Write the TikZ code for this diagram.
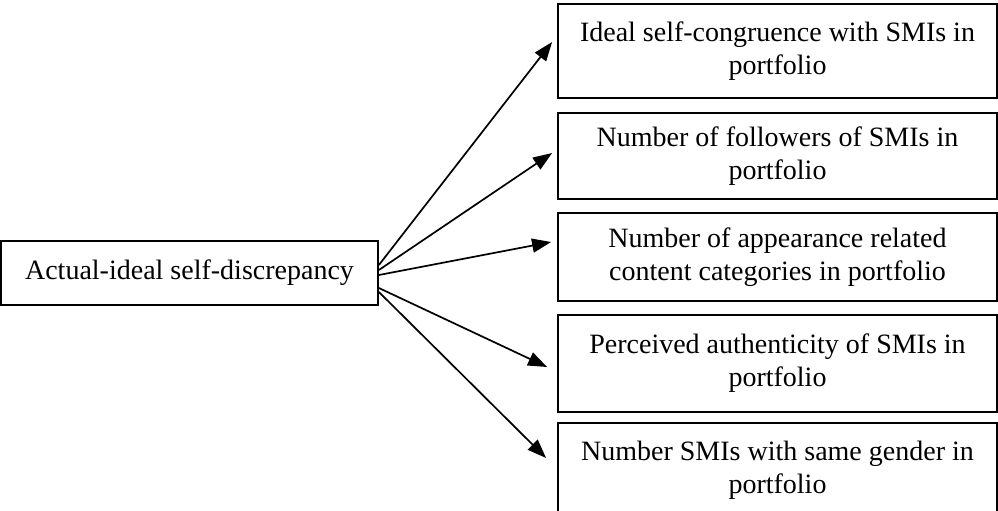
\documentclass[tikz,border=0pt]{standalone}
\usepackage{fontspec}
\setmainfont{Liberation Serif}
\usetikzlibrary{arrows.meta}
\begin{document}
\begin{tikzpicture}[x=0.5pt,y=-0.5pt,
  box/.style={draw, line width=0.9pt, inner sep=0pt, align=center,
    font=\fontsize{14pt}{16.5pt}\selectfont},
  lbox/.style={box, minimum width=188.5pt, minimum height=32pt},
  rbox/.style={box, minimum width=219.5pt},
  arr/.style={line width=0.85pt, -{Triangle[length=9.5pt,width=7pt]}}]
\useasboundingbox (0,0) rectangle (998,510);
\clip (0,0) rectangle (998,510);
\node[lbox] (L) at (189.5,273) {Actual-ideal self-discrepancy};
\node[rbox, minimum height=47pt] (b1) at (777.5,51) {Ideal self-congruence with SMIs in\\portfolio};
\node[rbox, minimum height=43pt] (b2) at (777.5,156) {Number of followers of SMIs in\\portfolio};
\node[rbox, minimum height=44pt] (b3) at (777.5,257) {Number of appearance related\\content categories in portfolio};
\node[rbox, minimum height=48.5pt] (b4) at (777.5,363.5) {Perceived authenticity of SMIs in\\portfolio};
\node[rbox, minimum height=47pt] (b5) at (777.5,470) {Number SMIs with same gender in\\portfolio};
\draw[arr] ([yshift=4pt]L.east) -- ([xshift=-2.5pt,yshift=4.5pt]b1.west);
\draw[arr] ([yshift=1.5pt]L.east) -- ([xshift=-2.5pt,yshift=1.5pt]b2.west);
\draw[arr] ([yshift=-1pt]L.east) -- ([xshift=-3pt,yshift=7.5pt]b3.west);
\draw[arr] ([yshift=-7.5pt]L.east) -- ([xshift=-5pt,yshift=-1.75pt]b4.west);
\draw[arr] ([yshift=-9.5pt]L.east) -- ([xshift=-5.5pt,yshift=6pt]b5.west);
\end{tikzpicture}
\end{document}
